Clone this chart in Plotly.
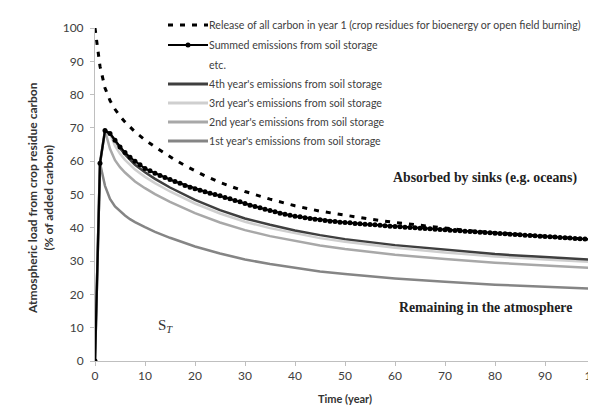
import plotly.graph_objects as go

# ---------------- data ----------------
release_t = [0, 1, 2, 3, 4, 5, 6, 7, 8, 9, 10, 12, 14, 16, 18, 20, 22, 25, 30, 35,
             40, 45, 50, 55, 60, 65, 70, 75, 80, 85, 90, 95, 100]
release_v = [100, 88.5, 82.0, 78.2, 75.6, 73.5, 71.8, 70.2, 68.8, 67.6, 66.4, 64.3,
             62.3, 60.4, 58.7, 57.1, 55.6, 53.6, 50.9, 48.6, 46.6, 45.0, 43.7, 42.6,
             41.6, 40.7, 39.9, 39.1, 38.5, 37.9, 37.4, 36.9, 36.5]

summed_t = list(range(0, 101))
summed_v = [0, 59.4, 69.2, 68.3, 66.3, 64.3, 62.6, 61.2, 60.0, 58.9,
            57.8, 57.1, 56.4, 55.7, 55.1, 54.5, 53.9, 53.4, 52.7, 52.2,
            51.7, 51.3, 50.8, 50.4, 50.0, 49.6, 49.1, 48.7, 48.2, 47.8,
            47.3, 46.8, 46.4, 46.0, 45.6, 45.2, 44.8, 44.4, 44.1, 43.8,
            43.5, 43.3, 43.0, 42.8, 42.6, 42.4, 42.2, 42.0, 41.9, 41.7,
            41.6, 41.5, 41.3, 41.2, 41.1, 41.0, 40.9, 40.8, 40.6, 40.5,
            40.4, 40.3, 40.2, 40.1, 40.0, 39.9, 39.8, 39.7, 39.6, 39.5,
            39.4, 39.3, 39.2, 39.1, 39.0, 38.9, 38.8, 38.7, 38.6, 38.5,
            38.4, 38.3, 38.2, 38.1, 38.0, 37.9, 37.8, 37.7, 37.6, 37.5,
            37.4, 37.3, 37.2, 37.1, 37.0, 36.9, 36.8, 36.7, 36.6, 36.5,
            36.4]

soil_t = [0, 1, 2, 3, 4, 5, 6, 7, 8, 10, 12, 15, 20, 25, 30, 35, 40, 45, 50,
          60, 70, 80, 90, 100]
year1_v = [0, 59.4, 52.6, 48.7, 46.4, 44.9, 43.7, 42.6, 41.7, 40.2, 38.8, 37.0,
           34.4, 32.3, 30.5, 29.1, 27.9, 26.9, 26.1, 24.8, 23.8, 22.9, 22.3, 21.7]
year2_v = [0, 59.4, 69.2, 63.7, 60.3, 58.2, 56.6, 55.1, 53.9, 51.9, 50.1, 47.8,
           44.4, 41.6, 39.3, 37.5, 36.0, 34.7, 33.6, 31.9, 30.6, 29.5, 28.7, 27.9]
year3_v = [0, 59.4, 69.2, 68.3, 64.6, 62.2, 60.4, 58.8, 57.5, 55.3, 53.4, 50.9,
           47.3, 44.3, 41.8, 39.9, 38.3, 36.9, 35.8, 34.0, 32.6, 31.4, 30.5, 29.7]
year4_v = [0, 59.4, 69.2, 68.3, 66.3, 63.9, 62.0, 60.3, 58.9, 56.7, 54.7, 52.1,
           48.4, 45.3, 42.8, 40.9, 39.2, 37.8, 36.6, 34.8, 33.4, 32.1, 31.2, 30.4]

legend_labels = [
    "Release of all carbon in year 1 (crop residues for bioenergy or open field burning)",
    "Summed emissions from soil storage",
    "etc.",
    "4th year's emissions from soil storage",
    "3rd year's emissions from soil storage",
    "2nd year's emissions from soil storage",
    "1st year's emissions from soil storage",
]

x_ticks = [0, 10, 20, 30, 40, 50, 60, 70, 80, 90, 100]
y_ticks = [0, 10, 20, 30, 40, 50, 60, 70, 80, 90, 100]

# ---------------- styles ----------------
C_Y1, C_Y2, C_Y3, C_Y4 = "#858585", "#a8a8a8", "#cfcfcf", "#3f3f3f"
DASH = "5px,7px"

# plot area in pixels (layout only)
L, R, T, B = 87, 587, 20, 353
W, H = 596, 406


def px_x(px):
    return (px - L) / (R - L)


def px_y(py):
    return (B - py) / (B - T)


fig = go.Figure()

fig.add_trace(go.Scatter(x=soil_t, y=year1_v, mode="lines", name=legend_labels[6],
                         line=dict(color=C_Y1, width=2.5)))
fig.add_trace(go.Scatter(x=soil_t, y=year2_v, mode="lines", name=legend_labels[5],
                         line=dict(color=C_Y2, width=2.5)))
fig.add_trace(go.Scatter(x=soil_t, y=year3_v, mode="lines", name=legend_labels[4],
                         line=dict(color=C_Y3, width=2.5)))
fig.add_trace(go.Scatter(x=soil_t, y=year4_v, mode="lines", name=legend_labels[3],
                         line=dict(color=C_Y4, width=2.5)))
fig.add_trace(go.Scatter(x=release_t, y=release_v, mode="lines", name=legend_labels[0],
                         line=dict(color="#000000", width=3, dash=DASH)))
fig.add_trace(go.Scatter(x=summed_t, y=summed_v, mode="lines+markers", name=legend_labels[1],
                         line=dict(color="#000000", width=2),
                         marker=dict(symbol="circle", size=5, color="#000000")))

axis_common = dict(showgrid=False, zeroline=False, showline=True, linecolor="#bfbfbf",
                   linewidth=1, ticks="outside", ticklen=4, tickcolor="#bfbfbf",
                   tickfont=dict(family="Lato", size=12, color="#404040"),
                   automargin=False, ticklabeloverflow="allow")

fig.update_xaxes(range=[0, 100], tickvals=x_ticks, **axis_common,
                 title=dict(text="<b>Time (year)</b>",
                            font=dict(family="Lato", size=11, color="#333333"),
                            standoff=12))
fig.update_yaxes(range=[0, 100], tickvals=y_ticks, ticklabelstandoff=4, **axis_common)

# y axis title (two lines)
fig.add_annotation(text="<b>Atmospheric load from crop residue carbon</b><br><b>(% of added carbon)</b>",
                   xref="paper", yref="paper", x=px_x(32), y=px_y(190),
                   textangle=-90, showarrow=False, xanchor="center", yanchor="middle",
                   font=dict(family="Lato", size=12, color="#333333"))

# in-plot labels
fig.add_annotation(text="<b>Absorbed by sinks (e.g. oceans)</b>", x=78, y=55,
                   showarrow=False, font=dict(family="Liberation Serif", size=13.8, color="#222222"))
fig.add_annotation(text="<b>Remaining in the atmosphere</b>", x=78, y=16,
                   showarrow=False, font=dict(family="Liberation Serif", size=13.8, color="#222222"))
fig.add_annotation(text="S<sub><i>T</i></sub>", x=14, y=10.5,
                   showarrow=False, font=dict(family="Liberation Serif", size=15, color="#333333"))

# ---------------- hand-drawn legend ----------------
row_y = [17, 37, 57, 76, 95, 114, 133]
samples = [
    dict(color="#000000", width=3, dash=DASH),
    dict(color="#000000", width=2),
    None,
    dict(color=C_Y4, width=3),
    dict(color=C_Y3, width=3),
    dict(color=C_Y2, width=3),
    dict(color=C_Y1, width=3),
]
for lab, py, ln in zip(legend_labels, row_y, samples):
    if ln is not None:
        fig.add_shape(type="line", xref="paper", yref="paper",
                      x0=px_x(160), x1=px_x(200), y0=px_y(py), y1=px_y(py), line=ln)
    fig.add_annotation(text=lab, xref="paper", yref="paper", x=px_x(199), y=px_y(py),
                       xanchor="left", yanchor="middle", showarrow=False,
                       font=dict(family="Lato", size=10.6, color="#404040"))
# marker in the "summed" sample
fig.add_shape(type="circle", xref="paper", yref="paper",
              x0=px_x(177.5), x1=px_x(182.5), y0=px_y(row_y[1] + 2.5), y1=px_y(row_y[1] - 2.5),
              fillcolor="#000000", line=dict(color="#000000", width=0))

fig.update_layout(
    width=W, height=H,
    margin=dict(l=L, r=W - R, t=T, b=H - B),
    paper_bgcolor="white", plot_bgcolor="white",
    showlegend=False,
)

fig.write_html("out.html")
